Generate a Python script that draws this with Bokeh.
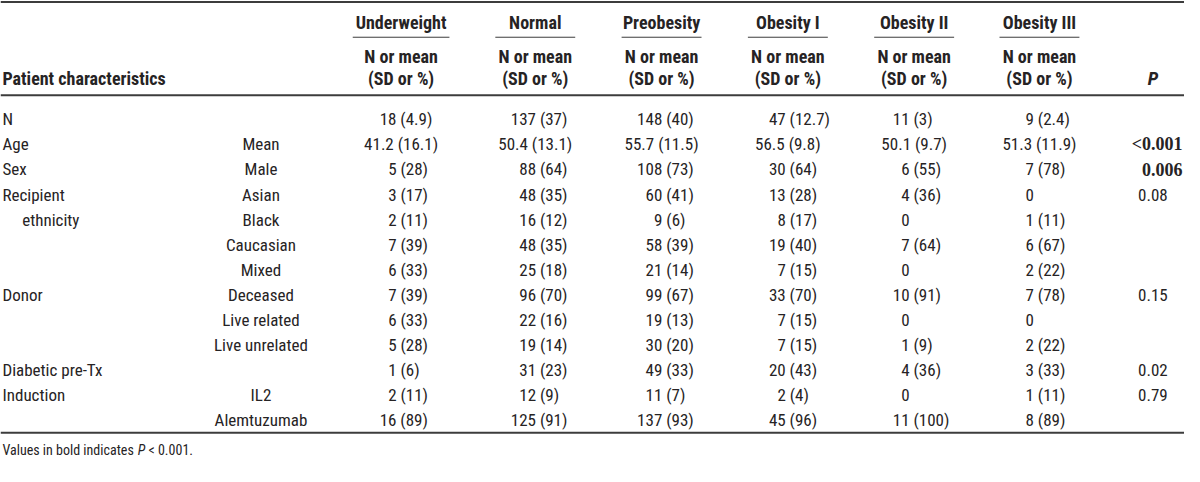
from bokeh.plotting import figure
from bokeh.models import Range1d, ColumnDataSource
from bokeh.core.properties import value
from bokeh.embed import file_html
from bokeh.resources import INLINE

# ---------------- data ----------------
groups = ["Underweight", "Normal", "Preobesity", "Obesity I", "Obesity II", "Obesity III"]
sub_header = ["N or mean", "(SD or %)"]
characteristics = ["N", "Age", "Sex", "Recipient", "ethnicity", "", "", "Donor", "", "",
                   "Diabetic pre-Tx", "Induction", ""]
subcategories = ["", "Mean", "Male", "Asian", "Black", "Caucasian", "Mixed", "Deceased",
                 "Live related", "Live unrelated", "", "IL2", "Alemtuzumab"]
underweight = ["18 (4.9)", "41.2 (16.1)", "5 (28)", "3 (17)", "2 (11)", "7 (39)", "6 (33)",
               "7 (39)", "6 (33)", "5 (28)", "1 (6)", "2 (11)", "16 (89)"]
normal = ["137 (37)", "50.4 (13.1)", "88 (64)", "48 (35)", "16 (12)", "48 (35)", "25 (18)",
          "96 (70)", "22 (16)", "19 (14)", "31 (23)", "12 (9)", "125 (91)"]
preobesity = ["148 (40)", "55.7 (11.5)", "108 (73)", "60 (41)", "9 (6)", "58 (39)", "21 (14)",
              "99 (67)", "19 (13)", "30 (20)", "49 (33)", "11 (7)", "137 (93)"]
obesity1 = ["47 (12.7)", "56.5 (9.8)", "30 (64)", "13 (28)", "8 (17)", "19 (40)", "7 (15)",
            "33 (70)", "7 (15)", "7 (15)", "20 (43)", "2 (4)", "45 (96)"]
obesity2 = ["11 (3)", "50.1 (9.7)", "6 (55)", "4 (36)", "0", "7 (64)", "0",
            "10 (91)", "0", "1 (9)", "4 (36)", "0", "11 (100)"]
obesity3 = ["9 (2.4)", "51.3 (11.9)", "7 (78)", "0", "1 (11)", "6 (67)", "2 (22)",
            "7 (78)", "0", "2 (22)", "3 (33)", "1 (11)", "8 (89)"]
p_values = ["", "<0.001", "0.006", "0.08", "", "", "", "0.15", "", "", "0.02", "0.79", ""]
p_bold = [False, True, True, False, False, False, False, False, False, False, False, False, False]
footnote = ["Values in bold indicates", "P", "< 0.001."]

# ---------------- layout (reference pixel coordinates) ----------------
W, H = 1200, 482
FONT = "Roboto Condensed"
INK = "#262324"
RULE = "#3c3c3c"
col_center = [406, 542, 670, 798, 926, 1053]
col_anchor = [401.5, 543, 671, 796, 921.5, 1047.5]   # right edge of the first number
DIGIT = 8.6
p_center, p_right = 1168, 1198
sub_x = 264
row_y0, row_dy = 123, 25.9
BODY = "17px"
HEAD = "18px"

p = figure(width=1184, height=466, x_range=Range1d(0, W), y_range=Range1d(H, 0),
           output_backend="svg", toolbar_location=None, min_border=0)
p.axis.visible = False
p.grid.visible = False
p.outline_line_color = None
p.background_fill_color = "white"
p.border_fill_color = "white"

def txt(xs, ys, texts, align="center", style="normal", size=BODY, font=FONT, color=INK):
    src = ColumnDataSource(dict(x=xs, y=ys, t=texts))
    p.text(x="x", y="y", text="t", source=src, text_align=align, text_baseline="middle",
           text_font=value(font), text_font_size=value(size), text_font_style=style,
           text_color=color)

# rules
p.segment(x0=[0, 0, 0], y0=[1.5, 98, 447], x1=[W, W, W], y1=[1.5, 98, 447],
          line_color=RULE, line_width=2)
ul_half = [49, 40.5, 40.5, 40.5, 40.5, 40.5]
p.segment(x0=[c - h for c, h in zip(col_center, ul_half)], y0=[38] * 6,
          x1=[c + h for c, h in zip(col_center, ul_half)], y1=[38] * 6,
          line_color=RULE, line_width=1)

# header
txt(col_center, [23] * 6, groups, style="bold", size=HEAD)
txt(col_center, [58] * 6, [sub_header[0]] * 6, style="bold", size=HEAD)
txt(col_center, [81] * 6, [sub_header[1]] * 6, style="bold", size=HEAD)
txt([2], [81], ["Patient characteristics"], align="left", style="bold", size=HEAD)
txt([p_center], [81], ["P"], style="bold italic", size="19px")

# body
n = len(characteristics)
ys = [row_y0 + i * row_dy for i in range(n)]
char_x = [22 if c == "ethnicity" else 2 for c in characteristics]
txt(char_x, ys, characteristics, align="left")
txt([sub_x] * n, ys, subcategories)

for cc, ax, colvals in zip(col_center, col_anchor,
                           [underweight, normal, preobesity, obesity1, obesity2, obesity3]):
    mean_i = [i for i, s in enumerate(colvals) if "." in s.split(" ")[0]]
    cnt_i = [i for i in range(n) if i not in mean_i]
    # mean rows centred in the column
    txt([cc] * len(mean_i), [ys[i] for i in mean_i], [colvals[i] for i in mean_i])
    # count rows aligned on the end of the first number
    xs = [ax - DIGIT * len(colvals[i].split(" ")[0]) for i in cnt_i]
    txt(xs, [ys[i] for i in cnt_i], [colvals[i] for i in cnt_i], align="left")

reg_i = [i for i in range(n) if not p_bold[i] and p_values[i]]
bold_i = [i for i in range(n) if p_bold[i]]
txt([p_center] * len(reg_i), [ys[i] for i in reg_i], [p_values[i] for i in reg_i])
txt([p_right] * len(bold_i), [ys[i] for i in bold_i], [p_values[i] for i in bold_i],
    align="right", style="bold", font="Liberation Serif", size="18px")

# footnote
FN = "14px"
txt([2], [465], [footnote[0]], align="left", size=FN)
txt([139], [465], [footnote[1]], align="left", size=FN, style="italic")
txt([150], [465], [footnote[2]], align="left", size=FN)

open("out.html", "w").write(file_html(p, INLINE))
